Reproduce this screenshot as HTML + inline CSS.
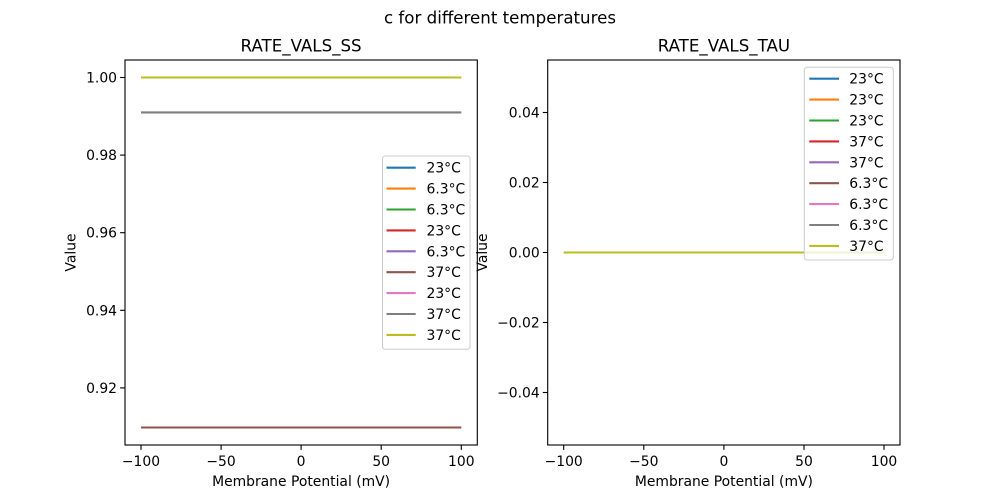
<!DOCTYPE html>
<html><head><meta charset="utf-8"><style>
html,body{margin:0;padding:0;background:#fff;}
svg{display:block;font-family:"DejaVu Sans","Liberation Sans",sans-serif;}
</style></head><body>
<svg width="1000" height="500" viewBox="0 0 1000 500" xmlns="http://www.w3.org/2000/svg">
<rect width="1000" height="500" fill="#fff"/>
<text x="500" y="23.5" font-size="16.67" text-anchor="middle" fill="#000">c for different temperatures</text>

<!-- LEFT AXES -->
<text x="301.1" y="51.7" font-size="16.67" text-anchor="middle">RATE_VALS_SS</text>
<g stroke-width="2.08" fill="none">
<line x1="141" y1="427.5" x2="461.3" y2="427.5" stroke="#8c564b"/>
<line x1="141" y1="112.4" x2="461.3" y2="112.4" stroke="#7f7f7f"/>
<line x1="141" y1="77.5" x2="461.3" y2="77.5" stroke="#bcbd22"/>
</g>
<rect x="125" y="60" width="352.3" height="385" fill="none" stroke="#000" stroke-width="1.11"/>
<g stroke="#000" stroke-width="1.11">
<line x1="141" y1="445" x2="141" y2="449.9"/>
<line x1="221.1" y1="445" x2="221.1" y2="449.9"/>
<line x1="301.1" y1="445" x2="301.1" y2="449.9"/>
<line x1="381.2" y1="445" x2="381.2" y2="449.9"/>
<line x1="461.3" y1="445" x2="461.3" y2="449.9"/>
<line x1="120.1" y1="77.5" x2="125" y2="77.5"/>
<line x1="120.1" y1="155.1" x2="125" y2="155.1"/>
<line x1="120.1" y1="232.7" x2="125" y2="232.7"/>
<line x1="120.1" y1="310.3" x2="125" y2="310.3"/>
<line x1="120.1" y1="387.9" x2="125" y2="387.9"/>
</g>
<g font-size="13.9" text-anchor="middle">
<text x="141" y="466">−100</text>
<text x="221.1" y="466">−50</text>
<text x="301.1" y="466">0</text>
<text x="381.2" y="466">50</text>
<text x="461.3" y="466">100</text>
</g>
<g font-size="13.9" text-anchor="end">
<text x="117" y="82.5">1.00</text>
<text x="117" y="160.1">0.98</text>
<text x="117" y="237.7">0.96</text>
<text x="117" y="315.3">0.94</text>
<text x="117" y="392.9">0.92</text>
</g>
<text x="301.1" y="486" font-size="13.9" text-anchor="middle">Membrane Potential (mV)</text>
<text transform="translate(75.5,252.5) rotate(-90)" font-size="13.9" text-anchor="middle">Value</text>

<!-- left legend -->
<rect x="382.5" y="156" width="87.5" height="193.3" rx="2.8" fill="#fff" fill-opacity="0.8" stroke="#cccccc" stroke-width="1"/>
<g stroke-width="2.08">
<line x1="386.5" y1="167.7" x2="415.7" y2="167.7" stroke="#1f77b4"/>
<line x1="386.5" y1="188.6" x2="415.7" y2="188.6" stroke="#ff7f0e"/>
<line x1="386.5" y1="209.5" x2="415.7" y2="209.5" stroke="#2ca02c"/>
<line x1="386.5" y1="230.4" x2="415.7" y2="230.4" stroke="#d62728"/>
<line x1="386.5" y1="251.3" x2="415.7" y2="251.3" stroke="#9467bd"/>
<line x1="386.5" y1="272.2" x2="415.7" y2="272.2" stroke="#8c564b"/>
<line x1="386.5" y1="293.1" x2="415.7" y2="293.1" stroke="#e377c2"/>
<line x1="386.5" y1="314" x2="415.7" y2="314" stroke="#7f7f7f"/>
<line x1="386.5" y1="334.9" x2="415.7" y2="334.9" stroke="#bcbd22"/>
</g>
<g font-size="13.9">
<text x="426.5" y="172.7">23°C</text>
<text x="426.5" y="193.6">6.3°C</text>
<text x="426.5" y="214.5">6.3°C</text>
<text x="426.5" y="235.4">23°C</text>
<text x="426.5" y="256.3">6.3°C</text>
<text x="426.5" y="277.2">37°C</text>
<text x="426.5" y="298.1">23°C</text>
<text x="426.5" y="319">37°C</text>
<text x="426.5" y="339.9">37°C</text>
</g>

<!-- RIGHT AXES -->
<text x="723.9" y="51.7" font-size="16.67" text-anchor="middle">RATE_VALS_TAU</text>
<g stroke-width="2.08" fill="none">
<line x1="563.7" y1="252.5" x2="884" y2="252.5" stroke="#bcbd22"/>
</g>
<rect x="547.7" y="60" width="352.3" height="385" fill="none" stroke="#000" stroke-width="1.11"/>
<g stroke="#000" stroke-width="1.11">
<line x1="563.7" y1="445" x2="563.7" y2="449.9"/>
<line x1="643.8" y1="445" x2="643.8" y2="449.9"/>
<line x1="723.9" y1="445" x2="723.9" y2="449.9"/>
<line x1="804" y1="445" x2="804" y2="449.9"/>
<line x1="884" y1="445" x2="884" y2="449.9"/>
<line x1="542.8" y1="112.5" x2="547.7" y2="112.5"/>
<line x1="542.8" y1="182.5" x2="547.7" y2="182.5"/>
<line x1="542.8" y1="252.5" x2="547.7" y2="252.5"/>
<line x1="542.8" y1="322.5" x2="547.7" y2="322.5"/>
<line x1="542.8" y1="392.5" x2="547.7" y2="392.5"/>
</g>
<g font-size="13.9" text-anchor="middle">
<text x="563.7" y="466">−100</text>
<text x="643.8" y="466">−50</text>
<text x="723.9" y="466">0</text>
<text x="804" y="466">50</text>
<text x="884" y="466">100</text>
</g>
<g font-size="13.9" text-anchor="end">
<text x="539.7" y="117.5">0.04</text>
<text x="539.7" y="187.5">0.02</text>
<text x="539.7" y="257.5">0.00</text>
<text x="539.7" y="327.5">−0.02</text>
<text x="539.7" y="397.5">−0.04</text>
</g>
<text x="723.9" y="486" font-size="13.9" text-anchor="middle">Membrane Potential (mV)</text>
<text transform="translate(487,252.5) rotate(-90)" font-size="13.9" text-anchor="middle">Value</text>

<!-- right legend -->
<rect x="804.3" y="67.3" width="89" height="192.7" rx="2.8" fill="#fff" fill-opacity="0.8" stroke="#cccccc" stroke-width="1"/>
<g stroke-width="2.08">
<line x1="809.3" y1="78.7" x2="839" y2="78.7" stroke="#1f77b4"/>
<line x1="809.3" y1="99.6" x2="839" y2="99.6" stroke="#ff7f0e"/>
<line x1="809.3" y1="120.5" x2="839" y2="120.5" stroke="#2ca02c"/>
<line x1="809.3" y1="141.4" x2="839" y2="141.4" stroke="#d62728"/>
<line x1="809.3" y1="162.3" x2="839" y2="162.3" stroke="#9467bd"/>
<line x1="809.3" y1="183.2" x2="839" y2="183.2" stroke="#8c564b"/>
<line x1="809.3" y1="204.1" x2="839" y2="204.1" stroke="#e377c2"/>
<line x1="809.3" y1="225" x2="839" y2="225" stroke="#7f7f7f"/>
<line x1="809.3" y1="245.9" x2="839" y2="245.9" stroke="#bcbd22"/>
</g>
<g font-size="13.9">
<text x="849.3" y="83.7">23°C</text>
<text x="849.3" y="104.6">23°C</text>
<text x="849.3" y="125.5">23°C</text>
<text x="849.3" y="146.4">37°C</text>
<text x="849.3" y="167.3">37°C</text>
<text x="849.3" y="188.2">6.3°C</text>
<text x="849.3" y="209.1">6.3°C</text>
<text x="849.3" y="230">6.3°C</text>
<text x="849.3" y="250.9">37°C</text>
</g>
</svg>
</body></html>
